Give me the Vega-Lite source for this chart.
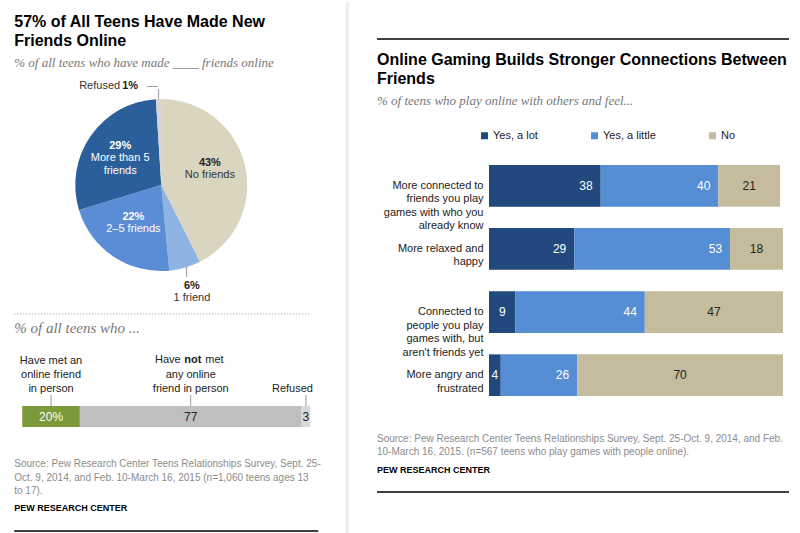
{
  "$schema": "https://vega.github.io/schema/vega-lite/v6.json",
  "padding": {"left": 13.25, "top": 0, "right": 0, "bottom": 0},
  "background": "white",
  "config": {
    "view": {"stroke": null},
    "font": "Liberation Sans",
    "title": {
      "anchor": "start", "frame": "group", "font": "Liberation Sans", "fontWeight": "bold",
      "fontSize": 16, "color": "#000000", "lineHeight": 19,
      "subtitleFont": "Liberation Serif", "subtitleFontStyle": "italic", "subtitleFontSize": 13,
      "subtitleColor": "#777777", "subtitlePadding": 8
    }
  },
  "datasets": {
    "pie": [
      {"k": 1, "name": "No friends", "value": 43, "pct": "43%"},
      {"k": 2, "name": "1 friend", "value": 6, "pct": "6%"},
      {"k": 3, "name": "2–5 friends", "value": 22, "pct": "22%"},
      {"k": 4, "name": "More than 5\nfriends", "value": 29, "pct": "29%"},
      {"k": 5, "name": "Refused", "value": 1, "pct": "1%"}
    ],
    "met": [
      {"grp": "Have met an online friend in person", "lbl": "Have met an\nonline friend\nin person", "value": 20, "txt": "20%"},
      {"grp": "Have not met any online friend in person", "lbl": "Have not met\nany online\nfriend in person", "value": 77, "txt": "77"},
      {"grp": "Refused", "lbl": "Refused", "value": 3, "txt": "3"}
    ],
    "games": [
      {"item": "More connected to\nfriends you play\ngames with who you\nalready know", "cat": "Yes, a lot", "value": 38},
      {"item": "More connected to\nfriends you play\ngames with who you\nalready know", "cat": "Yes, a little", "value": 40},
      {"item": "More connected to\nfriends you play\ngames with who you\nalready know", "cat": "No", "value": 21},
      {"item": "More relaxed and\nhappy", "cat": "Yes, a lot", "value": 29},
      {"item": "More relaxed and\nhappy", "cat": "Yes, a little", "value": 53},
      {"item": "More relaxed and\nhappy", "cat": "No", "value": 18},
      {"item": "Connected to\npeople you play\ngames with, but\naren't friends yet", "cat": "Yes, a lot", "value": 9},
      {"item": "Connected to\npeople you play\ngames with, but\naren't friends yet", "cat": "Yes, a little", "value": 44},
      {"item": "Connected to\npeople you play\ngames with, but\naren't friends yet", "cat": "No", "value": 47},
      {"item": "More angry and\nfrustrated", "cat": "Yes, a lot", "value": 4},
      {"item": "More angry and\nfrustrated", "cat": "Yes, a little", "value": 26},
      {"item": "More angry and\nfrustrated", "cat": "No", "value": 70}
    ]
  },
  "spacing": 26.75,
  "resolve": {
    "scale": {"color": "independent", "x": "independent", "y": "independent", "theta": "independent", "opacity": "independent"},
    "legend": {"color": "independent"}
  },
  "hconcat": [
    {
      "spacing": 0,
      "bounds": "flush",
      "resolve": {
        "scale": {"color": "independent", "x": "independent", "y": "independent", "theta": "independent", "opacity": "independent"},
        "legend": {"color": "independent"}
      },
      "vconcat": [
        {
          "width": 304,
          "height": 275,
          "title": {
            "text": ["57% of All Teens Have Made New", "Friends Online"],
            "subtitle": "% of all teens who have made ____ friends online",
            "offset": -31
          },
          "data": {"name": "pie"},
          "encoding": {
            "theta": {"field": "value", "type": "quantitative", "stack": true},
            "order": {"field": "k", "type": "quantitative"},
            "detail": {"field": "name", "type": "nominal"}
          },
          "layer": [
            {
              "mark": {"type": "arc", "outerRadius": 86, "xOffset": -5, "yOffset": 8.5},
              "encoding": {
                "color": {
                  "field": "name", "type": "nominal", "legend": null,
                  "scale": {
                    "domain": ["No friends", "1 friend", "2–5 friends", "More than 5\nfriends", "Refused"],
                    "range": ["#D9D5BE", "#8DB4E2", "#5B8CD6", "#2B5F9B", "#D3D3D3"]
                  }
                }
              }
            },
            {
              "mark": {"type": "text", "radius": 50, "xOffset": -5, "yOffset": 8.5, "baseline": "alphabetic", "dy": -7, "fontWeight": "bold", "fontSize": 11},
              "encoding": {
                "text": {"condition": {"test": "datum.value >= 10", "field": "pct", "type": "nominal"}, "value": ""},
                "color": {"condition": {"test": "datum.k === 1", "value": "#222222"}, "value": "white"}
              }
            },
            {
              "mark": {"type": "text", "radius": 50, "xOffset": -5, "yOffset": 8.5, "baseline": "top", "dy": -4, "fontSize": 11, "lineBreak": "\n", "lineHeight": 13},
              "encoding": {
                "text": {"condition": {"test": "datum.value >= 10", "field": "name", "type": "nominal"}, "value": ""},
                "color": {"condition": {"test": "datum.k === 1", "value": "#333333"}, "value": "white"}
              }
            },
            {
              "mark": {"type": "text", "radius": 111, "xOffset": -5, "yOffset": 8.5, "baseline": "alphabetic", "dy": -3, "fontWeight": "bold", "fontSize": 11, "color": "#222222"},
              "encoding": {
                "text": {"condition": {"test": "datum.k === 2", "field": "pct", "type": "nominal"}, "value": ""}
              }
            },
            {
              "mark": {"type": "text", "radius": 111, "xOffset": -5, "yOffset": 8.5, "baseline": "top", "dy": 0, "fontSize": 11, "color": "#333333"},
              "encoding": {
                "text": {"condition": {"test": "datum.k === 2", "field": "name", "type": "nominal"}, "value": ""}
              }
            },
            {
              "mark": {"type": "text", "radius": 91, "xOffset": -5, "yOffset": 8.5, "baseline": "middle", "fontSize": 11, "color": "#8a8a8a", "text": "|"},
              "encoding": {
                "opacity": {"condition": {"test": "datum.k === 2 || datum.k === 5", "value": 1}, "value": 0}
              }
            },
            {
              "mark": {"type": "text", "radius": 100, "xOffset": -5, "yOffset": 8.5, "align": "center", "dx": -6, "baseline": "middle", "dy": 1, "fontSize": 11, "color": "#8a8a8a", "text": "—"},
              "encoding": {
                "opacity": {"condition": {"test": "datum.k === 5", "value": 1}, "value": 0}
              }
            },
            {
              "mark": {"type": "text", "radius": 100, "xOffset": -5, "yOffset": 8.5, "align": "right", "dx": -20, "baseline": "middle", "dy": 1, "fontWeight": "bold", "fontSize": 11, "color": "#222222"},
              "encoding": {
                "text": {"condition": {"test": "datum.k === 5", "field": "pct", "type": "nominal"}, "value": ""}
              }
            },
            {
              "mark": {"type": "text", "radius": 100, "xOffset": -5, "yOffset": 8.5, "align": "right", "dx": -38, "baseline": "middle", "dy": 1, "fontSize": 11, "color": "#333333"},
              "encoding": {
                "text": {"condition": {"test": "datum.k === 5", "field": "name", "type": "nominal"}, "value": ""}
              }
            }
          ]
        },
        {
          "width": 304,
          "height": 92,
          "data": {"values": [{}]},
          "resolve": {"scale": {"x": "independent", "y": "independent"}},
          "layer": [
            {
              "mark": {"type": "rule", "strokeDash": [1, 2], "color": "#9a9a9a", "strokeWidth": 1},
              "encoding": {
                "x": {"datum": 0, "type": "quantitative", "scale": {"domain": [0, 1], "range": [0, 297]}, "axis": null},
                "x2": {"datum": 1},
                "y": {"datum": 1, "type": "quantitative", "scale": {"domain": [0, 1]}, "axis": null}
              }
            },
            {
              "mark": {"type": "rule", "color": "#EDEDED", "strokeWidth": 3},
              "encoding": {
                "x": {"datum": 333, "type": "quantitative", "scale": {"domain": [0, 304], "range": [0, 304], "nice": false, "zero": false}, "axis": null},
                "y": {"datum": -129, "type": "quantitative", "scale": {"domain": [0, 92], "nice": false, "zero": false}, "axis": null},
                "y2": {"datum": 404}
              }
            }
          ]
        },
        {
          "width": 304,
          "height": 21,
          "title": {
            "text": "% of all teens who ...",
            "font": "Liberation Serif", "fontStyle": "italic", "fontWeight": "normal",
            "fontSize": 15, "color": "#777777", "offset": 18
          },
          "data": {"name": "met"},
          "transform": [
            {"stack": "value", "groupby": [], "sort": [{"field": "grp", "order": "ascending"}], "as": ["v0", "v1"]},
            {"fold": ["v0", "v1"], "as": ["edge", "pos"]},
            {"aggregate": [{"op": "mean", "field": "pos", "as": "mid"}], "groupby": ["grp", "lbl", "value", "txt", "v0", "v1"]}
          ],
          "layer": [
            {
              "mark": {"type": "bar"},
              "encoding": {
                "x": {"field": "v0", "type": "quantitative", "scale": {"domain": [0, 100], "range": [8, 296], "nice": false}, "axis": null},
                "x2": {"field": "v1"},
                "y": {"datum": "all", "type": "nominal", "scale": {"paddingInner": 0, "paddingOuter": 0}, "axis": null},
                "color": {
                  "field": "grp", "type": "nominal", "legend": null,
                  "scale": {
                    "domain": ["Have met an online friend in person", "Have not met any online friend in person", "Refused"],
                    "range": ["#7A9A39", "#BFBFBF", "#D9D9D9"]
                  }
                }
              }
            },
            {
              "mark": {"type": "text", "fontSize": 12, "baseline": "middle"},
              "encoding": {
                "x": {"field": "mid", "type": "quantitative", "scale": {"domain": [0, 100], "range": [8, 296], "nice": false}, "axis": null},
                "text": {"field": "txt", "type": "nominal"},
                "color": {"condition": {"test": "datum.grp === 'Have met an online friend in person'", "value": "white"}, "value": "#222222"}
              }
            },
            {
              "transform": [{"filter": "datum.grp === 'Have met an online friend in person'"}],
              "mark": {"type": "text", "fontSize": 11, "align": "center", "baseline": "bottom", "dy": -51, "lineBreak": "\n", "lineHeight": 14, "color": "#222222"},
              "encoding": {
                "x": {"field": "mid", "type": "quantitative", "scale": {"domain": [0, 100], "range": [8, 296], "nice": false}, "axis": null},
                "text": {"field": "lbl", "type": "nominal"}
              }
            },
            {
              "transform": [{"filter": "datum.grp === 'Refused'"}],
              "mark": {"type": "text", "fontSize": 11, "align": "right", "dx": 7, "baseline": "bottom", "dy": -23, "color": "#222222"},
              "encoding": {
                "x": {"field": "mid", "type": "quantitative", "scale": {"domain": [0, 100], "range": [8, 296], "nice": false}, "axis": null},
                "text": {"field": "lbl", "type": "nominal"}
              }
            },
            {
              "transform": [{"filter": "datum.grp === 'Have not met any online friend in person'"}],
              "mark": {"type": "text", "fontSize": 11, "align": "center", "baseline": "bottom", "dy": -37, "lineBreak": "\n", "lineHeight": 14, "color": "#222222", "text": "any online\nfriend in person"},
              "encoding": {
                "x": {"field": "mid", "type": "quantitative", "scale": {"domain": [0, 100], "range": [8, 296], "nice": false}, "axis": null}
              }
            },
            {
              "transform": [{"filter": "datum.grp === 'Have not met any online friend in person'"}],
              "mark": {"type": "text", "fontSize": 11, "align": "right", "dx": -10, "baseline": "alphabetic", "dy": -53.5, "color": "#222222", "text": "Have"},
              "encoding": {
                "x": {"field": "mid", "type": "quantitative", "scale": {"domain": [0, 100], "range": [8, 296], "nice": false}, "axis": null}
              }
            },
            {
              "transform": [{"filter": "datum.grp === 'Have not met any online friend in person'"}],
              "mark": {"type": "text", "fontSize": 11, "fontWeight": "bold", "align": "left", "dx": -6.5, "baseline": "alphabetic", "dy": -53.5, "color": "#222222", "text": "not"},
              "encoding": {
                "x": {"field": "mid", "type": "quantitative", "scale": {"domain": [0, 100], "range": [8, 296], "nice": false}, "axis": null}
              }
            },
            {
              "transform": [{"filter": "datum.grp === 'Have not met any online friend in person'"}],
              "mark": {"type": "text", "fontSize": 11, "align": "left", "dx": 14.5, "baseline": "alphabetic", "dy": -53.5, "color": "#222222", "text": "met"},
              "encoding": {
                "x": {"field": "mid", "type": "quantitative", "scale": {"domain": [0, 100], "range": [8, 296], "nice": false}, "axis": null}
              }
            },
            {
              "mark": {"type": "rule", "color": "#9a9a9a", "strokeWidth": 1},
              "encoding": {
                "x": {"field": "mid", "type": "quantitative", "scale": {"domain": [0, 100], "range": [8, 296], "nice": false}, "axis": null},
                "y": {"value": -11},
                "y2": {"value": 0}
              }
            }
          ]
        },
        {
          "width": 304,
          "height": 104,
          "data": {"values": [{}]},
          "title": {
            "text": [
              "Source: Pew Research Center Teens Relationships Survey, Sept. 25-",
              "Oct. 9, 2014, and Feb. 10-March 16, 2015 (n=1,060 teens ages 13",
              "to 17)."
            ],
            "subtitle": "PEW RESEARCH CENTER",
            "fontSize": 10, "fontWeight": "normal", "color": "#8C8C8C", "lineHeight": 13.5,
            "subtitleFont": "Liberation Sans", "subtitleFontStyle": "normal", "subtitleFontWeight": "bold",
            "subtitleFontSize": 9, "subtitleColor": "#000000", "subtitlePadding": 8,
            "offset": -86
          },
          "mark": {"type": "rule", "color": "#000000", "strokeWidth": 1.5},
          "encoding": {
            "x": {"datum": 0, "type": "quantitative", "scale": {"domain": [0, 1]}, "axis": null},
            "x2": {"datum": 1},
            "y": {"datum": 0, "type": "quantitative", "scale": {"domain": [0, 1]}, "axis": null}
          }
        }
      ]
    },
    {
      "spacing": 0,
      "bounds": "flush",
      "vconcat": [
        {
          "width": 412,
          "height": 126,
          "data": {"values": [{}]},
          "mark": {"type": "rule", "color": "#000000", "strokeWidth": 1.5},
          "encoding": {
            "x": {"datum": 0, "type": "quantitative", "scale": {"domain": [0, 1]}, "axis": null},
            "x2": {"datum": 1},
            "y": {"datum": 1, "type": "quantitative", "scale": {"domain": [0, 1]}, "axis": null}
          }
        },
        {
          "width": 412,
          "height": 231,
          "title": {
            "text": ["Online Gaming Builds Stronger Connections Between", "Friends"],
            "subtitle": "% of teens who play online with others and feel...",
            "offset": 57
          },
          "data": {"name": "games"},
          "transform": [
            {"stack": "value", "groupby": ["item"], "sort": [{"field": "cat", "order": "descending"}], "as": ["v0", "v1"]}
          ],
          "layer": [
            {
              "mark": {"type": "bar"},
              "encoding": {
                "x": {"field": "v0", "type": "quantitative", "scale": {"domain": [0, 100], "range": [112, 406], "nice": false}, "axis": null},
                "x2": {"field": "v1"},
                "y": {
                  "field": "item", "type": "nominal",
                  "sort": [
                    "More connected to\nfriends you play\ngames with who you\nalready know",
                    "More relaxed and\nhappy",
                    "Connected to\npeople you play\ngames with, but\naren't friends yet",
                    "More angry and\nfrustrated"
                  ],
                  "scale": {"paddingInner": 0.34, "paddingOuter": 0},
                  "axis": {
                    "title": null, "offset": -112, "domain": false, "ticks": false, "tickSize": 0,
                    "labelPadding": 6, "labelFontSize": 11, "labelColor": "#222222",
                    "labelExpr": "split(datum.label, '\\n')", "labelLineHeight": 13.5, "labelLimit": 200
                  }
                },
                "color": {
                  "field": "cat", "type": "nominal",
                  "scale": {"domain": ["Yes, a lot", "Yes, a little", "No"], "range": ["#21497D", "#558ED5", "#C4BC9D"]},
                  "legend": {
                    "orient": "none", "legendX": 102, "legendY": 91, "direction": "horizontal", "columns": 3,
                    "title": null, "symbolType": "square", "symbolSize": 49, "symbolStrokeWidth": 0,
                    "labelFontSize": 11, "labelColor": "#222222", "labelOffset": 3, "columnPadding": 51, "padding": 0
                  }
                }
              }
            },
            {
              "transform": [{"filter": "datum.cat !== 'No' && datum.value >= 10"}],
              "mark": {"type": "text", "align": "right", "dx": -8, "fontSize": 12, "color": "white", "baseline": "middle"},
              "encoding": {
                "x": {"field": "v1", "type": "quantitative", "scale": {"domain": [0, 100], "range": [112, 406], "nice": false}, "axis": null},
                "y": {"field": "item", "type": "nominal", "sort": [
                    "More connected to\nfriends you play\ngames with who you\nalready know",
                    "More relaxed and\nhappy",
                    "Connected to\npeople you play\ngames with, but\naren't friends yet",
                    "More angry and\nfrustrated"
                  ]},
                "text": {"field": "value", "type": "quantitative"}
              }
            },
            {
              "transform": [
                {"fold": ["v0", "v1"], "as": ["edge", "pos"]},
                {"aggregate": [{"op": "mean", "field": "pos", "as": "mid"}], "groupby": ["item", "cat", "value"]},
                {"filter": "datum.cat === 'No' || datum.value < 10"}
              ],
              "mark": {"type": "text", "align": "center", "fontSize": 12, "baseline": "middle"},
              "encoding": {
                "x": {"field": "mid", "type": "quantitative", "scale": {"domain": [0, 100], "range": [112, 406], "nice": false}, "axis": null},
                "y": {"field": "item", "type": "nominal", "sort": [
                    "More connected to\nfriends you play\ngames with who you\nalready know",
                    "More relaxed and\nhappy",
                    "Connected to\npeople you play\ngames with, but\naren't friends yet",
                    "More angry and\nfrustrated"
                  ]},
                "text": {"field": "value", "type": "quantitative"},
                "color": {"condition": {"test": "datum.cat === 'No'", "value": "#222222"}, "value": "white"}
              }
            }
          ]
        },
        {
          "width": 412,
          "height": 96,
          "data": {"values": [{}]},
          "title": {
            "text": [
              "Source: Pew Research Center Teens Relationships Survey, Sept. 25-Oct. 9, 2014, and Feb.",
              "10-March 16, 2015.  (n=567 teens who play games with people online)."
            ],
            "subtitle": "PEW RESEARCH CENTER",
            "fontSize": 10, "fontWeight": "normal", "color": "#8C8C8C", "lineHeight": 13,
            "subtitleFont": "Liberation Sans", "subtitleFontStyle": "normal", "subtitleFontWeight": "bold",
            "subtitleFontSize": 9, "subtitleColor": "#000000", "subtitlePadding": 9,
            "offset": -79
          },
          "mark": {"type": "rule", "color": "#000000", "strokeWidth": 1.5},
          "encoding": {
            "x": {"datum": 0, "type": "quantitative", "scale": {"domain": [0, 1]}, "axis": null},
            "x2": {"datum": 1},
            "y": {"datum": 0, "type": "quantitative", "scale": {"domain": [0, 1]}, "axis": null}
          }
        }
      ]
    }
  ]
}
